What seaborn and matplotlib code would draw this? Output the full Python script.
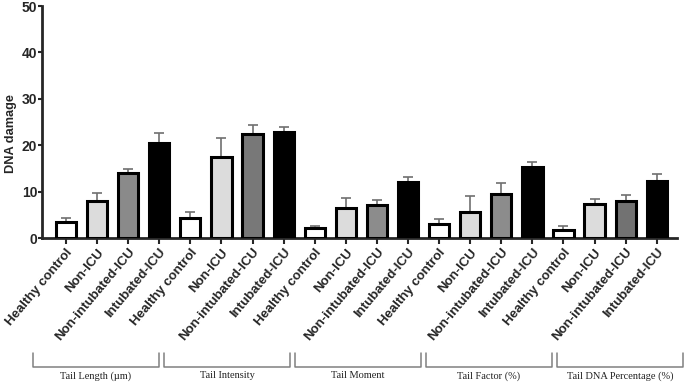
import numpy as np
import pandas as pd
import matplotlib
matplotlib.use("Agg")
import matplotlib.pyplot as plt
import seaborn as sns

# ------------------------------------------------------------------
# Datos
# ------------------------------------------------------------------
parametros = ["Tail Length (\u00b5m)", "Tail Intensity", "Tail Moment",
              "Tail Factor (%)", "Tail DNA Percentage (%)"]
grupos = ["Healthy control", "Non-ICU", "Non-intubated-ICU", "Intubated-ICU"]

media = [
    [3.4, 8.0, 14.1, 20.4],   # Tail Length
    [4.3, 17.4, 22.5, 22.9],  # Tail Intensity
    [2.1, 6.4, 7.2, 12.0],    # Tail Moment
    [3.0, 5.5, 9.4, 15.2],    # Tail Factor
    [1.8, 7.4, 8.0, 12.3],    # Tail DNA %
]
error = [
    [1.0, 1.8, 0.8, 2.3],
    [1.4, 4.1, 1.9, 1.0],
    [0.4, 2.3, 1.0, 1.1],
    [1.2, 3.5, 2.5, 1.1],
    [0.7, 1.0, 1.3, 1.4],
]

# ------------------------------------------------------------------
# DataFrame largo
# ------------------------------------------------------------------
filas = []
for p, par in enumerate(parametros):
    for g, grp in enumerate(grupos):
        filas.append({"id": f"{p}-{g}", "parametro": par, "grupo": grp,
                      "valor": media[p][g], "err": error[p][g]})
df = pd.DataFrame(filas)

colores = {"Healthy control": "#ffffff", "Non-ICU": "#dcdcdc",
           "Non-intubated-ICU": "#8a8a8a", "Intubated-ICU": "#000000"}
gris_medio = ["#8a8a8a", "#787878", "#8c8c8c", "#8c8c8c", "#727272"]

sns.set_style("ticks")
plt.rcParams["font.family"] = ["Liberation Sans", "DejaVu Sans"]

fig = plt.figure(figsize=(6.85, 3.82), dpi=100)
ax = fig.add_axes([42 / 685, 1 - 238 / 382, (677 - 42) / 685, (238 - 6) / 382])

sns.barplot(data=df, x="id", y="valor", hue="grupo", palette=colores,
            dodge=False, legend=False, errorbar=None, width=0.65,
            edgecolor="black", linewidth=2.2, ax=ax, zorder=3)

# colores del gris medio por parámetro
barras = sorted(ax.patches, key=lambda b: b.get_x())
for i, b in enumerate(barras):
    if i % 4 == 2:
        b.set_facecolor(gris_medio[i // 4])

xs = np.arange(len(df))
ax.errorbar(xs, df["valor"], yerr=[np.zeros(len(df)), df["err"]], fmt="none",
            ecolor="#707070", elinewidth=1.2, capsize=3.3, capthick=1.2, zorder=2)

ax.set_xlim(-0.77, 19.65)
ax.set_ylim(0, 50)
ax.set_yticks([0, 10, 20, 30, 40, 50])
ax.set_ylabel("DNA damage", fontsize=9.2, fontweight="bold")
ax.yaxis.set_label_coords(-0.039, 0.45)
ax.set_xlabel("")
ax.set_xticks(xs)
ax.set_xticklabels(df["grupo"], rotation=50, ha="right", va="top",
                   rotation_mode="anchor", fontsize=9.5, fontweight="bold")
for t in ax.get_yticklabels():
    t.set_fontweight("bold")
    t.set_fontsize(10)

sns.despine(ax=ax)
for s in ["left", "bottom"]:
    ax.spines[s].set_linewidth(2)
ax.tick_params(axis="x", length=4, width=1.5, pad=2)
ax.tick_params(axis="y", length=3, width=1.5, pad=0.5)

# corchetes con el nombre de cada parámetro
W, H = 685, 382
for p, par in enumerate(parametros):
    x0 = (33 + 131 * p) / W
    x1 = (33 + 131 * p + 126) / W
    y_top = 1 - 353 / H
    y_bot = 1 - 367 / H
    fig.add_artist(plt.Line2D([x0, x0, x1, x1], [y_top, y_bot, y_bot, y_top],
                              color="#808080", linewidth=1.1,
                              transform=fig.transFigure))
    fig.text((x0 + x1) / 2, 1 - 376 / H, par, ha="center", va="center",
             fontsize=7.5, family="Liberation Serif", color="#222222")

fig.savefig("out.png", dpi=100)
